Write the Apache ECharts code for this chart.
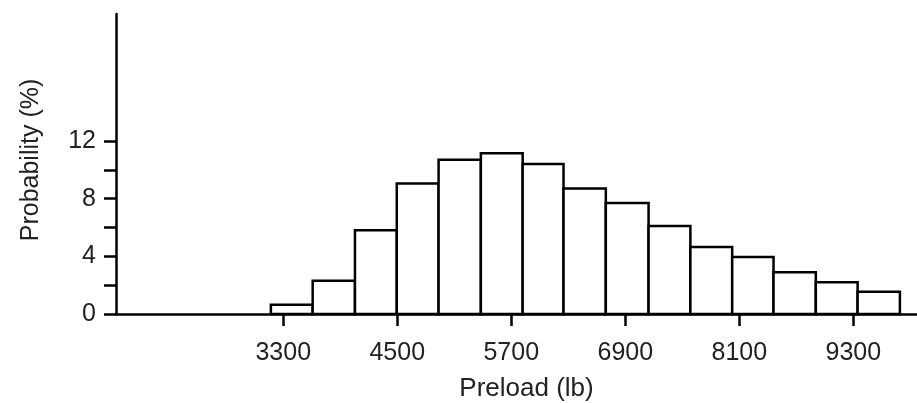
<!DOCTYPE html>
<html>
<head>
<meta charset="utf-8">
<script src="https://cdn.jsdelivr.net/npm/echarts@6/dist/echarts.min.js"></script>
<style>
  html, body { margin: 0; padding: 0; background: #fff; }
  #main { width: 917px; height: 403px; }
</style>
</head>
<body>
<div id="main"></div>
<script>
// bin edges (lb) and bar heights (%)
var binEdges = [3170, 3610, 4055, 4495, 4935, 5380, 5820, 6250, 6695, 7145, 7585, 8025, 8460, 8905, 9345, 9790];
var probability = [0.65, 2.3, 5.8, 9.05, 10.7, 11.15, 10.4, 8.7, 7.7, 6.1, 4.65, 3.95, 2.9, 2.2, 1.55];
var xTicks = [3300, 4500, 5700, 6900, 8100, 9300];
var yTicks = [0, 2, 4, 6, 8, 10, 12];
var yLabels = [0, 4, 8, 12];

var myChart = echarts.init(document.getElementById('main'));

// 直方图数据 [起点, 终点, 高度]
var bins = [];
for (var i = 0; i < probability.length; i++) {
  bins.push([binEdges[i], binEdges[i + 1], probability[i]]);
}

var font = 'Liberation Sans, Arial, sans-serif';
var plain = function (v) { return String(v); };

var option = {
  animation: false,
  grid: {
    left: 116,
    right: 0,
    top: 14,
    bottom: 89,
    outerBoundsMode: 'none'
  },
  xAxis: {
    type: 'value',
    min: 1540,
    max: 9970,
    name: 'Preload (lb)',
    nameLocation: 'middle',
    nameGap: 62,
    nameTextStyle: { fontFamily: font, fontSize: 26, color: '#222', padding: [0, 0, 0, 20] },
    axisLine: { lineStyle: { color: '#000', width: 2.5 } },
    axisTick: { show: true, length: 12, customValues: xTicks, lineStyle: { color: '#000', width: 2.5 } },
    axisLabel: { customValues: xTicks, formatter: plain, fontFamily: font, fontSize: 25, color: '#222', margin: 27 },
    splitLine: { show: false }
  },
  yAxis: {
    type: 'value',
    min: 0,
    max: 20.8,
    name: 'Probability (%)',
    nameLocation: 'middle',
    nameGap: 72,
    nameRotate: 90,
    nameTextStyle: { fontFamily: font, fontSize: 25, color: '#222', padding: [0, 0, 0, 8] },
    axisLine: { show: true, lineStyle: { color: '#000', width: 2.5 } },
    axisTick: { show: true, length: 12, customValues: yTicks, lineStyle: { color: '#000', width: 2.5 } },
    axisLabel: { customValues: yLabels, formatter: plain, fontFamily: font, fontSize: 25, color: '#222', margin: 20 },
    splitLine: { show: false }
  },
  series: [{
    type: 'custom',
    data: bins,
    renderItem: function (params, api) {
      var p0 = api.coord([api.value(0), api.value(2)]);
      var p1 = api.coord([api.value(1), 0]);
      return {
        type: 'rect',
        shape: { x: p0[0], y: p0[1], width: p1[0] - p0[0], height: p1[1] - p0[1] },
        style: { fill: '#fff', stroke: '#000', lineWidth: 2.5 }
      };
    }
  }]
};

myChart.setOption(option);
</script>
</body>
</html>
